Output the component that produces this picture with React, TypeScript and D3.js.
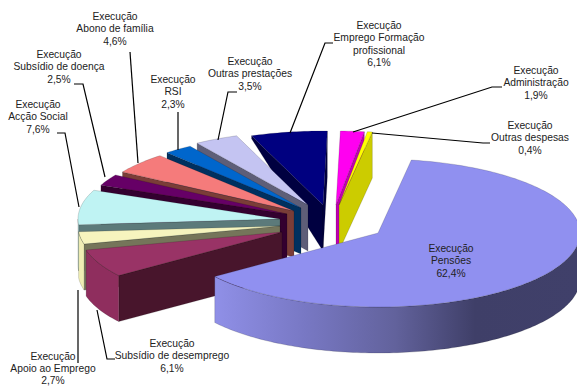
import React from "react";
import * as d3 from "d3";

// Budget execution shares, clockwise from the large slice
const categories = [
  "Pensões",
  "Subsídio de desemprego",
  "Apoio ao Emprego",
  "Acção Social",
  "Subsídio de doença",
  "Abono de família",
  "RSI",
  "Outras prestações",
  "Emprego Formação|profissional",
  "Administração",
  "Outras despesas",
];
const seriesName = "Execução";
const shares = [62.4, 6.1, 2.7, 7.6, 2.5, 4.6, 2.3, 3.5, 6.1, 1.9, 0.4];
const shareLabels = ["62,4%", "6,1%", "2,7%", "7,6%", "2,5%", "4,6%", "2,3%", "3,5%", "6,1%", "1,9%", "0,4%"];

const topColors = ["#9090F0", "#993366", "#F6F4BE", "#BFF3F3", "#660066", "#F57B7B", "#0066CC", "#C4C4F2", "#000080", "#FF00F0", "#FFFF00"];
const faceColors = ["#5A5A90", "#48152C", "#75755A", "#5C7A7A", "#33002F", "#7A3D38", "#00305F", "#5E5E78", "#000040", "#C000B0", "#CCCC00"];
const wallColors = ["url(#pensoesWall)", "#8F2E5E", "#EFEDB4", "#B4E8E8", "#660066", "#F57B7B", "#0066CC", "#C4C4F2", "#000080", "#FF00F0", "#FFFF00"];

// How far each slice is pulled away from the pie centre, in pixels
const explodeX = [0, -96, -98, -98, -91, -84, -77, -70, -55, -42, -39];
const explodeY = [0, -1, -7, -14, -19, -22, -25, -28, -28, -28, -28];

// Label anchor: centre x and the middle of the first text line
const labelX = [451, 172, 53, 38, 59, 115, 173, 250, 379, 536, 530];
const labelY = [249, 344, 356.5, 105, 55, 17, 80, 62, 26, 71, 126];

// Leader lines, rim to label
const leaders: ([number, number][] | null)[] = [
  null,
  [[97, 310], [107, 359], [115, 359]],
  [[78, 290], [78, 363]],
  [[79, 207], [65, 133], [57, 133]],
  [[105, 177], [83, 84], [74, 84]],
  [[138, 163], [130, 52]],
  [[178, 150], [178, 112]],
  [[218, 140], [228, 92], [237, 92]],
  [[290, 133], [325, 43], [333, 43]],
  [[353, 132], [492, 87], [502, 87]],
  [[372, 133], [483, 143], [490, 143]],
];

const WIDTH = 577;
const HEIGHT = 387;
const CX = 378;
const CY = 233;
const RX = 202;
const RY = 74;
const DEPTH = 46;
const START = (9.5 * Math.PI) / 180;

type Pt = [number, number];

export default function App() {
  const arcs = d3
    .pie<number>()
    .sort(null)
    .startAngle(START)
    .endAngle(START + 2 * Math.PI)(shares);

  const xScale = d3.scaleLinear().domain([-1, 1]).range([CX - RX, CX + RX]);
  const yScale = d3.scaleLinear().domain([-1, 1]).range([CY - RY, CY + RY]);
  const path = d3.line<Pt>();

  const slices = arcs.map((arc, i) => {
    // d3 measures from 12 o'clock; the projection below measures from 3 o'clock
    const a0 = arc.startAngle - Math.PI / 2;
    const a1 = arc.endAngle - Math.PI / 2;
    return { i, a0, a1, mid: (a0 + a1) / 2 };
  });

  const project = (i: number, a: number): Pt => [
    xScale(Math.cos(a)) + explodeX[i],
    yScale(Math.sin(a)) + explodeY[i],
  ];
  const rim = (i: number, a0: number, a1: number): Pt[] => {
    const n = Math.max(2, Math.ceil(Math.abs(a1 - a0) / 0.02));
    return d3.range(n + 1).map((k) => project(i, a0 + ((a1 - a0) * k) / n));
  };
  // The far left corner of the back faces collapses toward the top surface
  const cornerDepth = (a: number) => (Math.sin(a) < -0.9 && Math.cos(a) < 0 ? 3 : DEPTH);

  const cutFace = (i: number, a: number) => {
    const apex: Pt = [CX + explodeX[i], CY + explodeY[i]];
    const outer = project(i, a);
    const pts: Pt[] = [
      apex,
      outer,
      [outer[0], outer[1] + cornerDepth(a)],
      [apex[0], apex[1] + DEPTH],
    ];
    return path(pts) + "Z";
  };

  const wall = (i: number, a0: number, a1: number) => {
    const lo = Math.max(a0, 0);
    const hi = Math.min(a1, Math.PI);
    if (hi <= lo || lo > Math.PI) return null;
    const upper = rim(i, lo, hi);
    const lower = upper.map(([x, y]): Pt => [x, y + DEPTH]).reverse();
    return path([...upper, ...lower]) + "Z";
  };

  const top = (i: number, a0: number, a1: number) => {
    const apex: Pt = [CX + explodeX[i], CY + explodeY[i]];
    return path([apex, ...rim(i, a0, a1)]) + "Z";
  };

  // Paint from the back of the pie to the front
  const ordered = [...slices].sort((p, q) => Math.sin(p.mid) - Math.sin(q.mid));

  return (
    <svg
      width={WIDTH}
      height={HEIGHT}
      viewBox={`0 0 ${WIDTH} ${HEIGHT}`}
      style={{ position: "absolute", left: 0, top: 0, background: "#fff" }}
    >
      <defs>
        <linearGradient id="pensoesWall" gradientUnits="userSpaceOnUse" x1={213} x2={577} y1={0} y2={0}>
          <stop offset="0" stopColor="#9090E8" />
          <stop offset="0.25" stopColor="#7878C4" />
          <stop offset="0.5" stopColor="#62629C" />
          <stop offset="0.72" stopColor="#3F3F68" />
          <stop offset="1" stopColor="#40406A" />
        </linearGradient>
      </defs>

      {ordered.map(({ i, a0, a1 }) => {
        const w = wall(i, a0, a1);
        return (
          <g key={i} stroke="#000" strokeOpacity={0.3} strokeWidth={0.5} strokeLinejoin="round">
            {Math.cos(a0) < 0 && <path d={cutFace(i, a0)} fill={faceColors[i]} />}
            {Math.cos(a1) > 0 && <path d={cutFace(i, a1)} fill={faceColors[i]} />}
            {w && <path d={w} fill={wallColors[i]} />}
            <path d={top(i, a0, a1)} fill={topColors[i]} />
          </g>
        );
      })}

      <g fill="none" stroke="#000" strokeWidth={1.2}>
        {leaders.map((pts, i) => pts && <path key={i} d={path(pts) ?? ""} />)}
      </g>

      <g fontFamily="'Liberation Sans', Arial, sans-serif" fontSize={10.3} fill="#222" textAnchor="middle">
        {categories.map((name, i) => {
          const lines = [seriesName, ...name.split("|"), shareLabels[i]];
          return (
            <text key={name} x={labelX[i]} y={labelY[i]} dominantBaseline="middle">
              {lines.map((line, k) => (
                <tspan key={k} x={labelX[i]} dy={k === 0 ? 0 : 12.4}>
                  {line}
                </tspan>
              ))}
            </text>
          );
        })}
      </g>
    </svg>
  );
}
